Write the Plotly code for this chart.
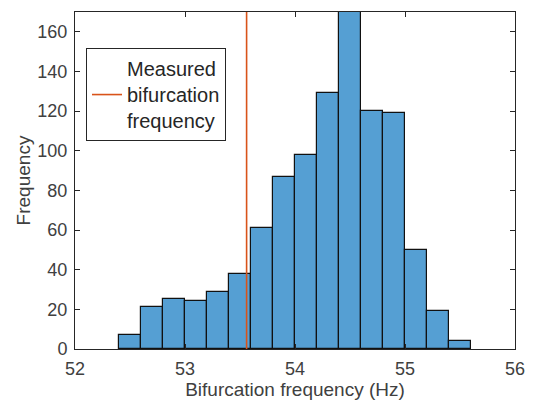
import plotly.graph_objects as go

bin_edges_start = [52.4, 52.6, 52.8, 53.0, 53.2, 53.4, 53.6, 53.8, 54.0, 54.2, 54.4, 54.6, 54.8, 55.0, 55.2, 55.4]
counts = [7, 21, 25, 24, 29, 38, 61, 87, 98, 129, 170, 120, 119, 50, 19, 4]
bin_width = 0.2
measured_freq = 53.56
x_ticks = [52, 53, 54, 55, 56]
y_ticks = [0, 20, 40, 60, 80, 100, 120, 140, 160]

centers = [s + bin_width / 2 for s in bin_edges_start]

FONT = "Liberation Sans, Arial"
GREY = "#404040"

fig = go.Figure()
fig.add_trace(go.Bar(
    x=centers, y=counts, width=bin_width,
    marker=dict(color="#559FD3", line=dict(color="#111111", width=1.2)),
    showlegend=False,
))
fig.add_trace(go.Scatter(
    x=[measured_freq, measured_freq], y=[0, 170], mode="lines",
    line=dict(color="#D95319", width=1.6),
    name="Measured<br>bifurcation<br>frequency",
))

axis_common = dict(
    showline=True, linecolor="#262626", linewidth=1, mirror="ticks",
    ticks="inside", ticklen=5, tickcolor="#262626",
    showgrid=False, zeroline=False, automargin=False,
    tickfont=dict(family=FONT, size=18, color=GREY),
)

fig.update_layout(
    width=535, height=404,
    margin=dict(l=75, r=20, t=12, b=55),
    plot_bgcolor="white", paper_bgcolor="white",
    bargap=0,
    font=dict(family=FONT, color="#262626"),
    xaxis=dict(range=[52, 56], tickvals=x_ticks, ticklabelstandoff=3,
               title=dict(text="Bifurcation frequency (Hz)", font=dict(size=19, color=GREY), standoff=0),
               **axis_common),
    yaxis=dict(range=[0, 170], tickvals=y_ticks, ticklabelstandoff=3,
               title=dict(text="Frequency", font=dict(size=19, color=GREY), standoff=1),
               **axis_common),
    legend=dict(
        x=0.025, y=0.893, xanchor="left", yanchor="top",
        bgcolor="white", bordercolor="#262626", borderwidth=1,
        font=dict(family=FONT, size=20, color="#262626"),
        itemwidth=30, valign="middle",
    ),
)

fig.write_html("out.html")
